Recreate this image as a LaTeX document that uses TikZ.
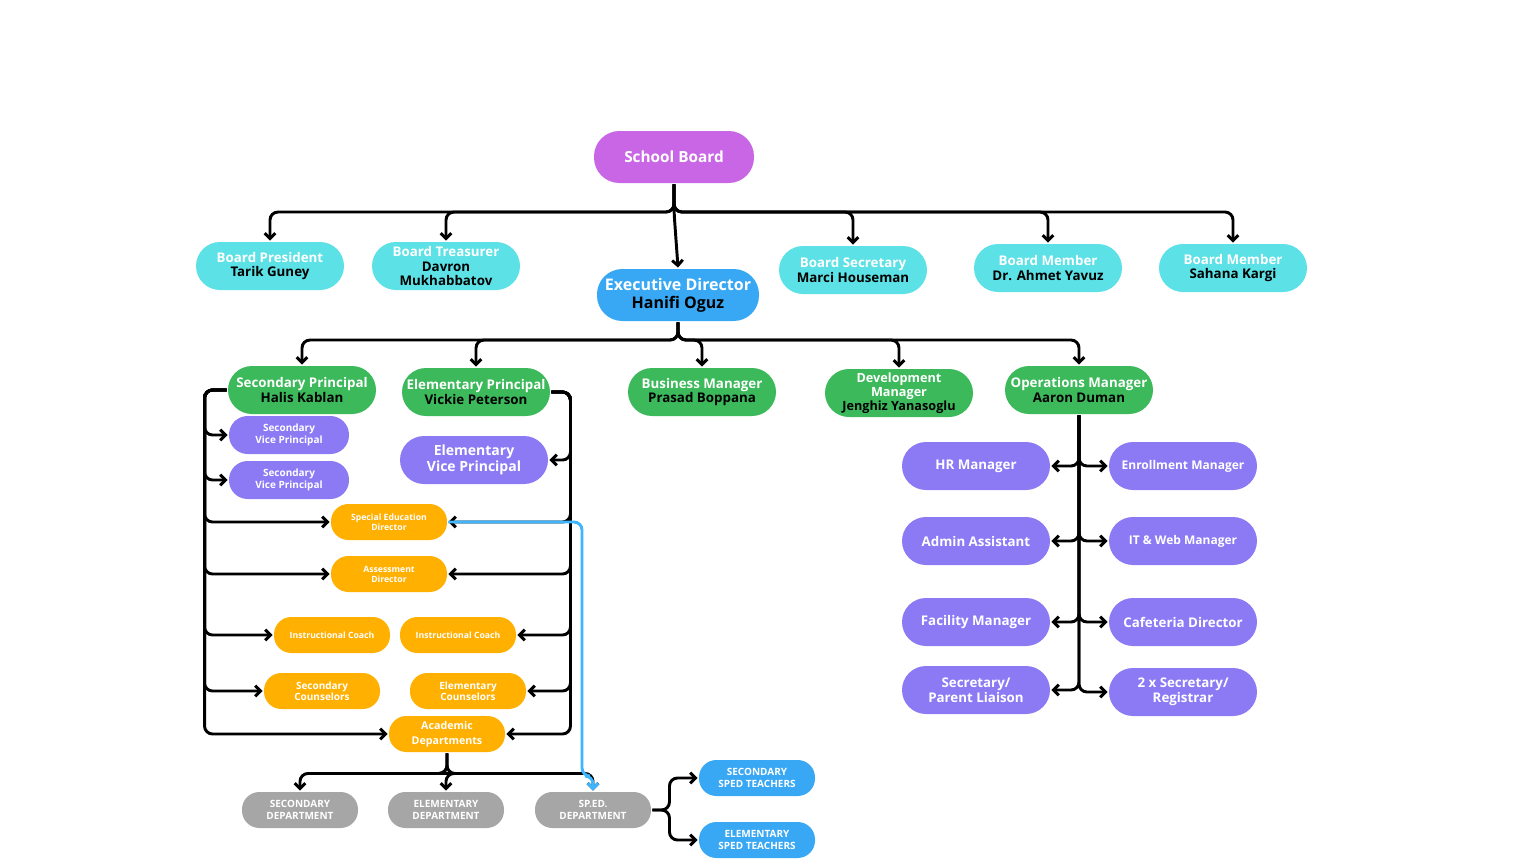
\documentclass[tikz,border=0pt]{standalone}
\usepackage{fontspec}
\setmainfont{Open Sans}
\usetikzlibrary{arrows.meta}
\definecolor{cMag}{HTML}{C966E6}
\definecolor{cCyan}{HTML}{5CE1E6}
\definecolor{cBlue}{HTML}{38A8F5}
\definecolor{cGreen}{HTML}{3CB95A}
\definecolor{cPurple}{HTML}{8C7AF5}
\definecolor{cOrange}{HTML}{FFB000}
\definecolor{cGrey}{HTML}{A6A6A6}
\definecolor{cLine}{HTML}{3DB5FF}
\def\px{0.75pt}
\begin{document}
\begin{tikzpicture}[x=0.75pt,y=-0.75pt, line width=2.2pt,
  >={Straight Barb[length=4pt,width=8pt]},
  base/.style={draw=none, inner sep=0pt, align=center, text=white, font=\bfseries\fontsize{10}{11}\selectfont},
  big/.style={base, minimum width=148*\px, minimum height=48*\px, rounded corners=18pt},
  small/.style={base, minimum width=116*\px, minimum height=36*\px, rounded corners=13pt, font=\bfseries\fontsize{7.5}{8.5}\selectfont},
  tiny/.style={small, font=\bfseries\fontsize{6.5}{7.5}\selectfont},
  cyan/.style={big, fill=cCyan},
  green/.style={big, fill=cGreen},
  purple/.style={big, fill=cPurple},
  orange/.style={tiny, fill=cOrange},
  grey/.style={small, fill=cGrey},
  sped/.style={small, fill=cBlue},
  conn/.style={draw=black, rounded corners=6pt, ->},
  blk/.style={text=black}]
\useasboundingbox (0,0) rectangle (1536,864);

% nodes
\node[base, fill=cMag, minimum width=160*\px, minimum height=52*\px, rounded corners=19pt, font=\bfseries\fontsize{11.5}{13}\selectfont] (sb) at (674,157) {School Board};
\node[cyan] (bp) at (270,266) {Board President\\\textcolor{black}{Tarik Guney}};
\node[cyan] (bt) at (446,266) {Board Treasurer\\\textcolor{black}{Davron}\\\textcolor{black}{Mukhabbatov}};
\node[base, fill=cBlue, minimum width=162*\px, minimum height=52*\px, rounded corners=19pt, font=\bfseries\fontsize{12}{13.5}\selectfont] (ed) at (678,295) {Executive Director\\\textcolor{black}{Hanifi Oguz}};
\node[cyan] (bs) at (853,270) {Board Secretary\\\textcolor{black}{Marci Houseman}};
\node[cyan] (bm1) at (1048,268) {Board Member\\\textcolor{black}{Dr. Ahmet Yavuz}};
\node[cyan] (bm2) at (1233,268) {Board Member\\\textcolor{black}{Sahana Kargi}};

\node[green] (sp) at (302,390) {Secondary Principal\\\textcolor{black}{Halis Kablan}};
\node[green] (ep) at (476,392) {Elementary Principal\\\textcolor{black}{Vickie Peterson}};
\node[green] (bmg) at (702,392) {Business Manager\\\textcolor{black}{Prasad Boppana}};
\node[green, font=\bfseries\fontsize{9.5}{10.5}\selectfont] (dm) at (899,393) {Development\\Manager\\\textcolor{black}{Jenghiz Yanasoglu}};
\node[green] (om) at (1079,390) {Operations Manager\\\textcolor{black}{Aaron Duman}};

\node[purple, minimum width=120*\px, minimum height=38*\px, rounded corners=14pt, font=\bfseries\fontsize{7.5}{8.5}\selectfont] (sv1) at (289,435) {Secondary\\Vice Principal};
\node[purple, minimum width=120*\px, minimum height=38*\px, rounded corners=14pt, font=\bfseries\fontsize{7.5}{8.5}\selectfont] (sv2) at (289,480) {Secondary\\Vice Principal};
\node[purple, font=\bfseries\fontsize{10.5}{11.5}\selectfont] (ev) at (474,460) {Elementary\\Vice Principal};

\node[purple] (hr) at (976,466) {HR Manager};
\node[purple, font=\bfseries\fontsize{9}{10}\selectfont] (en) at (1183,466) {Enrollment Manager};
\node[purple] (aa) at (976,541) {Admin Assistant};
\node[purple, font=\bfseries\fontsize{9}{10}\selectfont] (it) at (1183,541) {IT \& Web Manager};
\node[purple] (fm) at (976,622) {Facility Manager};
\node[purple] (cd) at (1183,622) {Cafeteria Director};
\node[purple] (pl) at (976,690) {Secretary/\\Parent Liaison};
\node[purple] (rg) at (1183,692) {2 x Secretary/\\Registrar};

\node[orange] (sed) at (389,522) {Special Education\\Director};
\node[orange] (asd) at (389,574) {Assessment\\Director};
\node[orange] (ic1) at (332,635) {Instructional Coach};
\node[orange] (ic2) at (458,635) {Instructional Coach};
\node[small, fill=cOrange] (sc) at (322,691) {Secondary\\Counselors};
\node[small, fill=cOrange] (ec) at (468,691) {Elementary\\Counselors};
\node[small, fill=cOrange, font=\bfseries\fontsize{8}{11.5}\selectfont] (ad) at (447,734) {Academic\\Departments};

\node[grey] (sdp) at (300,810) {SECONDARY\\DEPARTMENT};
\node[grey] (edp) at (446,810) {ELEMENTARY\\DEPARTMENT};
\node[grey] (spd) at (593,810) {SP.ED.\\DEPARTMENT};
\node[sped] (st1) at (757,778) {SECONDARY\\SPED TEACHERS};
\node[sped] (st2) at (757,840) {ELEMENTARY\\SPED TEACHERS};

% connectors
\coordinate (sbj) at (674,212);
\foreach \t in {bp,bt,bs,bm1,bm2} \draw[conn] (sb.south) -- (sbj) -| (\t.north);
\draw[conn] (sb.south) -- (sbj) -- (ed.north);
\coordinate (edj) at (678,340);
\foreach \t in {sp,ep,bmg,dm,om} \draw[conn] (ed.south) -- (edj) -| (\t.north);

\foreach \t in {sv1,sv2,sed,asd,ic1,sc,ad} \draw[conn] (sp.west) -- ++(-22,0) |- (\t.west);
\foreach \t in {ev,sed,asd,ic2,ec,ad} \draw[conn] (ep.east) -- ++(19,0) |- (\t.east);
\foreach \t in {hr,aa,fm,pl} \draw[conn] (om.south) |- (\t.east);
\foreach \t in {en,it,cd,rg} \draw[conn] (om.south) |- (\t.west);
\foreach \t in {sdp,edp,spd} \draw[conn] (ad.south) -- ++(0,20) -| (\t.north);
\coordinate (bl1) at (582,522);
\coordinate (bl2) at (582,776);
\draw[conn, draw=cLine] (sed.east) -- (bl1) -- (bl2) -| (spd.north);
\foreach \t in {st1,st2} \draw[conn] (spd.east) -- ++(17,0) |- (\t.west);
\end{tikzpicture}
\end{document}
